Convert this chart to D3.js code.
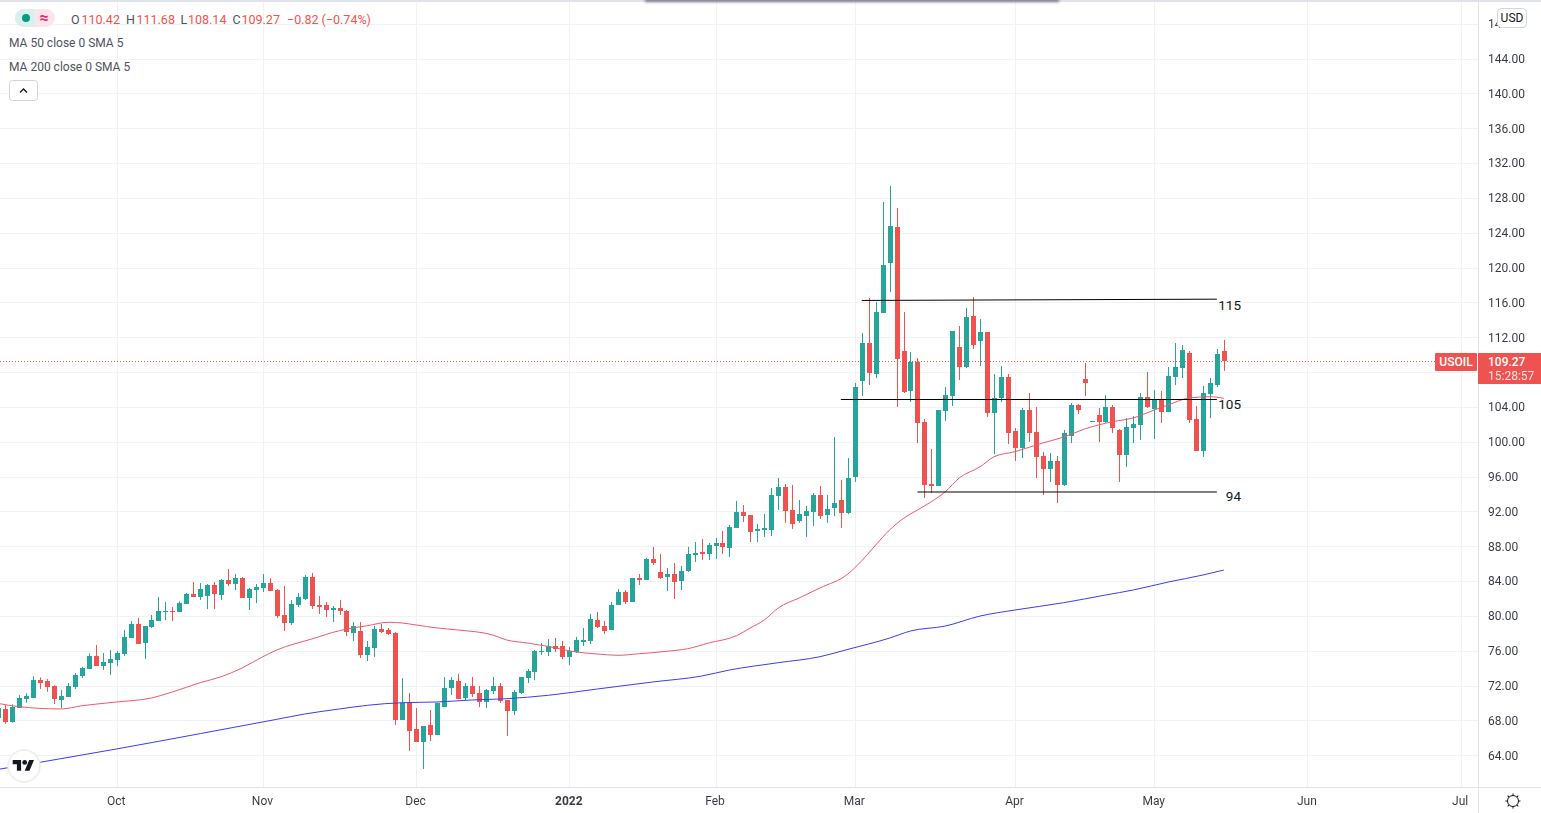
<!DOCTYPE html>
<html>
<head>
<meta charset="utf-8">
<title>USOIL</title>
<script src="https://cdnjs.cloudflare.com/ajax/libs/d3/7.8.5/d3.min.js"></script>
<style>
    html, body { margin: 0; padding: 0; background: #fff; overflow: hidden; }
    svg { display: block; font-family: Roboto, sans-serif; }
</style>
</head>
<body>
<script>
// daily candles
var opens = [
    68.32,69.31,67.82,69.47,70.46,70.61,72.64,72.53,71.95,70.35,
    70.69,71.84,73.10,73.91,75.40,74.25,74.59,74.94,75.63,77.46,
    79.07,76.89,78.73,79.42,80.49,80.57,80.45,81.37,82.52,82.17,
    82.29,83.55,82.40,84.12,83.66,84.35,82.06,82.98,83.20,83.78,
    82.98,80.11,79.19,81.25,81.94,84.47,81.25,81.25,80.68,80.91,
    80.57,78.04,78.27,75.51,76.32,78.50,78.38,78.04,68.05,70.00,
    67.02,65.52,67.48,66.33,69.54,71.72,72.53,70.58,71.95,71.15,
    70.12,71.38,71.95,70.35,69.08,71.15,72.87,73.56,75.90,75.86,
    76.55,76.55,75.29,75.86,77.01,77.13,79.54,78.85,78.39,81.26,
    82.75,81.61,84.36,84.13,86.54,85.05,84.48,84.82,84.02,85.16,
    87.00,87.35,87.12,88.03,88.38,87.80,90.10,91.94,91.59,89.76,
    89.87,89.87,93.77,94.81,92.17,90.91,91.48,91.94,93.89,91.59,
    92.39,93.31,91.82,95.95,106.97,111.34,107.78,114.78,120.52,124.65,
    110.42,105.83,109.15,102.27,95.15,94.92,103.53,105.25,110.88,108.58,
    114.44,111.57,112.60,103.30,105.02,107.43,101.23,99.28,103.64,101.12,
    98.36,96.87,97.79,95.03,100.66,104.22,107.20,102.30,103.07,102.27,
    103.99,101.35,98.48,101.58,101.92,105.14,103.76,104.91,103.41,107.43,
    108.46,110.19,102.61,98.94,105.48,106.51,110.42
];
var highs = [
    69.66,69.77,69.85,70.92,71.11,73.06,72.95,72.76,72.03,71.49,
    72.30,73.45,74.17,75.70,76.66,75.74,76.09,75.97,78.38,79.42,
    79.76,78.84,80.11,82.17,81.60,81.02,81.67,82.63,83.89,83.78,
    83.66,83.89,84.24,85.39,84.81,84.47,83.20,83.66,84.81,84.35,
    83.09,83.43,81.83,82.63,84.70,84.93,82.29,81.60,81.14,81.83,
    80.68,79.30,79.30,77.12,78.84,79.07,78.61,78.15,72.87,71.15,
    69.43,67.36,69.20,70.00,72.99,72.99,73.33,72.30,72.99,71.95,
    71.61,72.99,72.30,70.35,71.49,72.99,73.91,76.09,76.89,77.35,
    77.47,77.13,76.44,77.59,78.62,80.23,80.46,79.42,81.61,83.10,
    82.98,84.36,84.82,86.66,87.92,87.12,85.51,86.08,85.74,87.92,
    88.49,88.84,88.38,88.95,89.76,90.45,93.20,92.74,91.59,90.56,
    91.71,94.69,95.84,95.15,95.04,93.32,92.63,94.12,94.92,93.89,
    100.54,95.61,98.13,106.74,112.48,116.50,116.04,127.52,129.36,126.84,
    114.90,110.30,109.61,102.61,99.17,103.64,106.28,112.71,113.29,115.35,
    116.62,114.09,112.60,107.78,108.70,107.78,101.58,103.87,105.59,103.99,
    98.82,98.71,98.36,101.35,104.45,104.33,109.04,102.38,103.87,105.36,
    104.22,101.46,102.72,102.95,105.59,108.01,105.94,105.82,108.58,111.34,
    111.11,110.42,104.10,106.40,107.32,110.65,111.68
];
var lows = [
    68.05,67.63,67.74,69.47,70.04,70.61,71.61,71.30,69.89,69.43,
    70.69,71.61,72.87,73.91,74.25,73.79,73.22,74.25,75.40,77.46,
    76.78,75.05,78.61,79.42,79.53,79.42,80.45,81.37,82.17,81.83,
    80.79,80.79,81.83,83.43,82.98,82.06,80.68,81.48,82.75,82.86,
    79.76,78.27,78.96,81.02,81.83,80.79,80.22,79.88,79.30,80.11,
    77.69,77.12,75.17,74.82,75.28,78.04,77.81,67.48,68.05,64.49,
    65.52,62.43,65.64,66.33,69.54,70.92,70.46,70.35,70.69,69.54,
    69.43,71.04,70.00,66.21,68.62,71.04,72.30,72.64,75.51,75.40,
    75.86,75.06,74.37,75.75,76.55,76.78,78.62,77.93,78.39,81.26,
    81.38,81.61,83.56,84.13,85.85,84.25,82.87,81.95,82.98,85.05,
    86.20,86.43,86.43,86.54,87.12,86.77,90.10,90.79,88.49,88.49,
    89.07,89.18,92.17,90.68,89.99,90.68,89.07,90.33,91.13,90.68,
    91.47,90.10,91.67,95.38,105.25,106.51,107.32,114.78,117.19,103.99,
    105.60,104.56,99.85,93.54,94.11,94.92,102.38,104.10,107.09,108.47,
    110.65,108.70,102.84,98.59,104.56,99.74,97.79,98.13,99.97,95.84,
    93.88,95.38,92.97,94.92,99.85,103.18,105.25,102.30,99.97,102.15,
    101.00,95.38,97.10,99.85,100.20,103.87,100.31,102.15,103.41,106.51,
    107.32,102.15,98.94,98.25,102.72,106.28,108.14
];
var closes = [
    69.39,67.82,69.54,70.58,70.81,72.64,72.30,71.84,70.46,70.81,
    71.95,73.22,74.02,75.40,74.25,74.71,75.05,75.74,77.58,79.07,
    76.78,78.84,79.53,80.57,80.57,80.45,81.48,82.52,82.17,83.09,
    83.55,82.52,84.12,83.66,84.35,82.06,83.09,83.32,83.78,82.86,
    79.99,79.19,81.37,82.17,84.47,81.14,81.02,80.68,80.91,80.57,
    78.15,78.84,75.51,76.43,78.50,78.15,77.92,68.05,70.00,66.79,
    65.52,67.36,66.33,70.00,71.72,72.64,70.46,71.95,71.04,70.12,
    71.49,71.95,70.23,69.08,71.27,72.99,73.68,75.97,75.97,76.55,
    76.21,75.29,76.02,77.24,77.24,79.65,78.73,78.28,81.26,82.75,
    81.61,84.36,84.13,86.54,86.08,84.36,84.82,83.90,85.16,87.12,
    87.23,87.12,88.15,88.38,87.92,90.22,91.94,91.48,89.64,89.99,
    90.10,93.89,94.81,92.05,90.56,91.71,92.05,93.89,91.48,92.28,
    92.97,91.82,95.84,106.28,111.34,107.89,114.90,120.29,124.77,109.50,
    105.71,109.15,102.15,95.03,94.92,103.64,105.37,112.71,108.58,114.32,
    111.11,112.60,103.30,105.02,107.43,101.00,99.28,103.64,101.00,98.25,
    96.87,97.79,95.03,101.00,104.22,103.64,106.74,102.38,102.27,103.99,
    101.58,98.48,101.69,102.04,105.14,103.99,104.91,103.41,107.55,108.58,
    110.53,102.49,98.94,105.59,106.74,110.07,109.27
];

// moving averages, read at these bars only
var ma50Bars = [0,3,9,12,17,22,25,29,32,35,38,40,45,49,53,56,58,60,63,66,71,73,76,79,83,86,89,92,96,99,102,106,108,110,112,115,118,122,124,126,128,130,132,134,136,138,141,143,146,150,153,156,160,163,166,168,171,174,176];
var ma50Values = [69.95,69.58,69.32,69.69,70.12,70.58,71.27,72.34,73.02,74.02,75.32,76.09,77.35,78.31,78.88,79.27,79.19,78.96,78.62,78.39,77.81,77.24,76.89,76.49,75.86,75.63,75.48,75.66,75.94,76.24,76.89,77.73,78.62,79.53,80.91,82.06,83.21,84.81,86.34,88.14,89.87,91.20,92.16,93.12,94.26,95.84,97.13,98.28,98.86,99.86,100.54,101.46,102.30,102.73,103.64,104.22,105.02,105.17,104.99];
var ma200Bars = [0,6,17,29,40,44,49,53,58,63,68,73,79,86,94,101,105,112,118,122,128,131,136,141,146,153,159,163,168,173,176];
var ma200Values = [62.39,63.20,64.73,66.49,68.13,68.74,69.32,69.74,70.04,70.12,70.35,70.50,70.89,71.61,72.42,73.10,73.79,74.63,75.32,76.16,77.46,78.27,78.84,79.99,80.68,81.52,82.40,82.98,83.89,84.70,85.27];

// hand drawn levels
var levelNames = ["115", "105", "94"];
var levelStartBars = [124, 121, 132];
var levelEndBars = [175, 175, 175];
var levelStartPrices = [116.22, 104.85, 94.23];
var levelEndPrices = [116.37, 104.85, 94.23];
var levelLabelOffsets = [10.8, 9.3, 9];

var priceTicks = [64,68,72,76,80,84,88,92,96,100,104,108,112,116,120,124,128,132,136,140,144,148];
var monthBars = [17,38,60,82,103,123,146,166,188,210];
var monthLabels = ["Oct","Nov","Dec","2022","Feb","Mar","Apr","May","Jun","Jul"];

var lastPrice = 109.27;
var countdown = "15:28:57";

var svgWidth = 1541;
var svgHeight = 813;
var paneWidth = 1478;
var paneHeight = 787;

var upColor = "#26a69a";
var downColor = "#ef5350";
var gridColor = "#f1f2f5";
var borderColor = "#e0e3eb";
var textColor = "#131722";

var bars = d3.range(opens.length);

var xScale = d3.scaleLinear().domain([0, 212.5]).range([-1.7, paneWidth]);
var yScale = d3.scaleLinear().domain([64, 144]).range([755.3, 58.5]);

// crisp pixel position of a bar centre
function barX(i) { return Math.round(xScale(i)); }

var svg = d3.select("body").append("svg")
    .attr("width", svgWidth)
    .attr("height", svgHeight);

var defs = svg.append("defs");
defs.append("clipPath").attr("id", "pane").append("rect")
    .attr("width", paneWidth).attr("height", paneHeight);
defs.append("filter").attr("id", "blur")
    .attr("x", "-5%").attr("y", "-200%").attr("width", "110%").attr("height", "500%")
    .append("feGaussianBlur").attr("stdDeviation", 1.5);

// grid
svg.append("g").selectAll("line").data(priceTicks).enter().append("line")
    .attr("x1", 0).attr("x2", paneWidth)
    .attr("y1", function(d) { return Math.round(yScale(d)) + 0.5; })
    .attr("y2", function(d) { return Math.round(yScale(d)) + 0.5; })
    .attr("stroke", gridColor);
svg.append("g").selectAll("line").data(monthBars).enter().append("line")
    .attr("x1", function(d) { return barX(d) + 0.5; })
    .attr("x2", function(d) { return barX(d) + 0.5; })
    .attr("y1", 0).attr("y2", paneHeight)
    .attr("stroke", gridColor);

var pane = svg.append("g").attr("clip-path", "url(#pane)");

// last price line, under the candles
pane.append("line")
    .attr("x1", 0).attr("x2", 1435)
    .attr("y1", Math.round(yScale(lastPrice)) + 0.5)
    .attr("y2", Math.round(yScale(lastPrice)) + 0.5)
    .attr("stroke", downColor)
    .attr("stroke-dasharray", "1 2");

function candleColor(i) { return closes[i] >= opens[i] ? upColor : downColor; }

// wicks
pane.append("g").selectAll("rect").data(bars).enter().append("rect")
    .attr("x", function(i) { return barX(i); })
    .attr("width", 1)
    .attr("y", function(i) { return yScale(highs[i]); })
    .attr("height", function(i) { return yScale(lows[i]) - yScale(highs[i]); })
    .attr("fill", candleColor);

// bodies
pane.append("g").selectAll("rect").data(bars).enter().append("rect")
    .attr("x", function(i) { return barX(i) - 2; })
    .attr("width", 5)
    .attr("y", function(i) { return Math.round(yScale(Math.max(opens[i], closes[i]))); })
    .attr("height", function(i) {
        return Math.max(1, Math.round(yScale(Math.min(opens[i], closes[i]))) - Math.round(yScale(Math.max(opens[i], closes[i]))));
    })
    .attr("fill", candleColor);

function maLine(values) {
    return d3.line()
        .curve(d3.curveMonotoneX)
        .x(function(b) { return xScale(b); })
        .y(function(b, i) { return yScale(values[i]); });
}

pane.append("path")
    .attr("d", maLine(ma50Values)(ma50Bars))
    .attr("fill", "none").attr("stroke", "#f0596a").attr("stroke-width", 1);
pane.append("path")
    .attr("d", maLine(ma200Values)(ma200Bars))
    .attr("fill", "none").attr("stroke", "#3c3cf2").attr("stroke-width", 1);

// hand drawn levels and their labels
levelNames.forEach(function(name, i) {
    svg.append("line")
        .attr("x1", xScale(levelStartBars[i])).attr("x2", xScale(levelEndBars[i]))
        .attr("y1", yScale(levelStartPrices[i])).attr("y2", yScale(levelEndPrices[i]))
        .attr("stroke", "#000").attr("stroke-width", 1);
    svg.append("text")
        .attr("x", 1241).attr("y", yScale(levelEndPrices[i]) + levelLabelOffsets[i])
        .attr("text-anchor", "end")
        .attr("font-size", 13.5)
        .attr("fill", textColor)
        .text(name);
});

// price axis
var yAxis = d3.axisRight(yScale)
    .tickValues(priceTicks)
    .tickFormat(d3.format(".2f"))
    .tickSize(0)
    .tickPadding(10);
var yAxisG = svg.append("g")
    .attr("transform", "translate(" + paneWidth + ",0)")
    .call(yAxis);
yAxisG.select(".domain").remove();
yAxisG.selectAll("text").attr("font-size", 12).attr("font-family", "Roboto, sans-serif").attr("fill", textColor).attr("opacity", 0.85);

// time axis
var xAxis = d3.axisBottom(xScale)
    .tickValues(monthBars)
    .tickFormat(function(d, i) { return monthLabels[i]; })
    .tickSize(0)
    .tickPadding(9);
var xAxisG = svg.append("g")
    .attr("transform", "translate(-1," + paneHeight + ")")
    .call(xAxis);
xAxisG.select(".domain").remove();
xAxisG.selectAll("text")
    .attr("font-size", 12).attr("font-family", "Roboto, sans-serif").attr("fill", textColor).attr("opacity", 0.85)
    .attr("font-weight", function(d, i) { return monthLabels[i] === "2022" ? "bold" : "normal"; });

// axis borders and top strip
svg.append("rect").attr("x", paneWidth).attr("y", 0).attr("width", 1).attr("height", svgHeight).attr("fill", borderColor);
svg.append("rect").attr("x", 0).attr("y", paneHeight).attr("width", svgWidth).attr("height", 1).attr("fill", borderColor);
svg.append("rect").attr("x", 0).attr("y", 0).attr("width", svgWidth).attr("height", 2).attr("fill", borderColor);
svg.append("rect").attr("x", 645).attr("y", -2).attr("width", 414).attr("height", 4)
    .attr("fill", "#7d7d88").attr("filter", "url(#blur)");

// price labels
svg.append("rect").attr("x", 1435).attr("y", 353).attr("width", 42).attr("height", 18).attr("rx", 1).attr("fill", downColor);
svg.append("text").attr("x", 1456).attr("y", 366).attr("text-anchor", "middle")
    .attr("font-size", 12).attr("font-weight", 500).attr("fill", "#fff").text("USOIL");
svg.append("rect").attr("x", 1478).attr("y", 353).attr("width", 63).attr("height", 31).attr("fill", downColor);
svg.append("text").attr("x", 1488).attr("y", 366)
    .attr("font-size", 12).attr("font-weight", 500).attr("fill", "#fff").text(d3.format(".2f")(lastPrice));
svg.append("text").attr("x", 1488).attr("y", 380)
    .attr("font-size", 12).attr("fill", "#fff").attr("opacity", 0.85).text(countdown);

// currency badge
svg.append("rect").attr("x", 1497.5).attr("y", 8.5).attr("width", 29).attr("height", 19).attr("rx", 4)
    .attr("fill", "#fff").attr("stroke", "#d1d4dc");
svg.append("text").attr("x", 1512).attr("y", 22).attr("text-anchor", "middle")
    .attr("font-size", 12).attr("fill", textColor).text("USD");

// legend
svg.append("rect").attr("x", 15).attr("y", 9).attr("width", 40).attr("height", 18).attr("rx", 9).attr("fill", "#fce4ec");
svg.append("path").attr("d", "M35 9H24a9 9 0 0 0 0 18H35Z").attr("fill", "#d9f0ec");
svg.append("circle").attr("cx", 26).attr("cy", 18).attr("r", 4).attr("fill", "#089981");
svg.append("text").attr("x", 44).attr("y", 23).attr("text-anchor", "middle")
    .attr("font-size", 16).attr("font-weight", "bold").attr("fill", "#e91e63").text("≈");

var legendLetters = ["O", "H", "L", "C"];
var legendLetterX = [71, 126, 180.5, 232.5];
var legendValues = ["110.42", "111.68", "108.14", "109.27"];
var legendValueX = [81.5, 136.5, 188, 241.5];
legendLetters.forEach(function(l, i) {
    svg.append("text").attr("x", legendLetterX[i]).attr("y", 24)
        .attr("font-size", 12.5).attr("fill", "#50535e").text(l);
    svg.append("text").attr("x", legendValueX[i]).attr("y", 24)
        .attr("font-size", 12.5).attr("fill", downColor).text(legendValues[i]);
});
svg.append("text").attr("x", 287).attr("y", 24)
    .attr("font-size", 12.5).attr("fill", downColor).text("−0.82 (−0.74%)");
svg.append("text").attr("x", 9).attr("y", 47).attr("font-size", 12).attr("fill", "#50535e").text("MA 50 close 0 SMA 5");
svg.append("text").attr("x", 9).attr("y", 71).attr("font-size", 12).attr("fill", "#50535e").text("MA 200 close 0 SMA 5");

// collapse button
svg.append("rect").attr("x", 9.5).attr("y", 80.5).attr("width", 28).attr("height", 20).attr("rx", 3)
    .attr("fill", "#fff").attr("stroke", "#d1d4dc");
svg.append("path").attr("d", "M20 92.5l3.5-3.5 3.5 3.5").attr("fill", "none").attr("stroke", textColor).attr("stroke-width", 1.3);

// logo
svg.append("circle").attr("cx", 24).attr("cy", 766).attr("r", 16).attr("fill", "#fff").attr("stroke", "#ececec").attr("stroke-width", 1.5);
var logo = svg.append("g").attr("transform", "translate(12.7,757.6) scale(0.6)").attr("fill", textColor);
logo.append("path").attr("d", "M14 22H7V11H0V4h14v18zM28 22h-8l7.5-18h8L28 22z");
logo.append("circle").attr("cx", 20).attr("cy", 8).attr("r", 4);

// settings gear
var gear = svg.append("g").attr("transform", "translate(1513,801)").attr("stroke", textColor).attr("fill", "none");
gear.append("circle").attr("r", 5.5);
gear.selectAll("line").data(d3.range(0, 360, 45)).enter().append("line")
    .attr("y1", -5.5).attr("y2", -7.5)
    .attr("transform", function(d) { return "rotate(" + d + ")"; });
</script>
</body>
</html>
